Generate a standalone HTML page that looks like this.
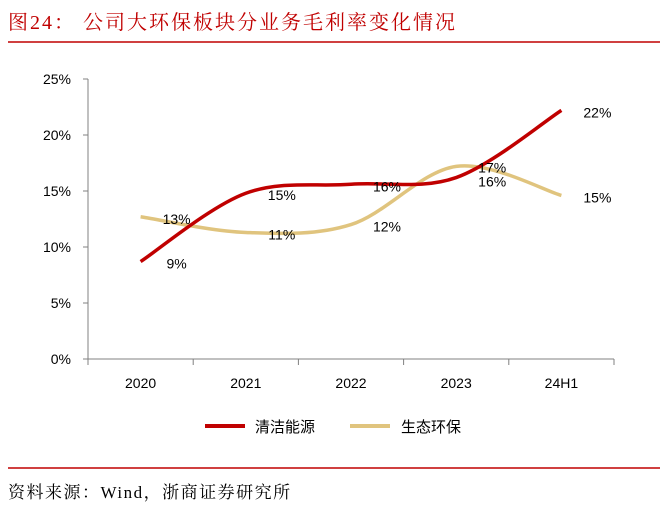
<!DOCTYPE html>
<html><head><meta charset="utf-8">
<style>
body{margin:0;background:#fff;}
svg{display:block;font-family:"Liberation Sans","Noto Sans CJK SC",sans-serif;}
</style></head>
<body>
<svg width="666" height="509" viewBox="0 0 666 509">
<text x="8" y="29" font-size="20" letter-spacing="2" fill="#c00000" font-family="Liberation Serif, Noto Serif CJK SC, serif">图24：  公司大环保板块分业务毛利率变化情况</text>
<line x1="8" y1="42" x2="660" y2="42" stroke="#c00000" stroke-width="1.5"/>
<g id="axes"></g>
<g id="series"></g>
<g>
<line x1="205" y1="426" x2="245" y2="426" stroke="#c00000" stroke-width="4"/>
<text x="255" y="432" font-size="15" fill="#000">清洁能源</text>
<line x1="350" y1="426" x2="390" y2="426" stroke="#e0c47e" stroke-width="4"/>
<text x="401" y="432" font-size="15" fill="#000">生态环保</text>
</g>
<line x1="8" y1="468" x2="660" y2="468" stroke="#c00000" stroke-width="1.5"/>
<text x="8" y="498" font-size="17" letter-spacing="1.5" fill="#000" font-family="Liberation Serif, Noto Serif CJK SC, serif">资料来源：Wind，浙商证券研究所</text>
</svg>
<script>
const categories=["2020","2021","2022","2023","24H1"];
const cleanEnergy=[8.7,14.8,15.6,16.2,22.2];
const eco=[12.7,11.3,12.0,17.2,14.6];
const cleanLabels=["9%","15%","16%","16%","22%"];
const ecoLabels=["13%","11%","12%","17%","15%"];
const yTicks=[0,5,10,15,20,25];

const NS="http://www.w3.org/2000/svg";
const x0=88,x1=614,y0=359,yTop=79,yMax=25;
const bw=(x1-x0)/categories.length;
const X=i=>x0+bw*(i+0.5);
const Y=v=>y0-(v/yMax)*(y0-yTop);
function mk(tag,attrs,parent){const e=document.createElementNS(NS,tag);for(const k in attrs)e.setAttribute(k,attrs[k]);parent.appendChild(e);return e;}
const ax=document.getElementById('axes');
let l=mk('line',{x1:x0,y1:yTop,x2:x0,y2:y0,stroke:'#808080'},ax);


l=mk('line',{x1:x0,y1:y0,x2:x1,y2:y0,stroke:'#808080'},ax);


yTicks.forEach(t=>{
  const tk=mk('line',{x1:x0-5,y1:Y(t),x2:x0,y2:Y(t),stroke:'#808080'},ax);
  
  
  const tx=mk('text',{x:x0-17,y:Y(t)+5,'font-size':14,'text-anchor':'end'},ax);
  tx.textContent=t+'%';
  
  
});
for(let i=0;i<=categories.length;i++){
  const tk=mk('line',{x1:x0+bw*i,y1:y0,x2:x0+bw*i,y2:y0+6,stroke:'#808080'},ax);
  
  
}
categories.forEach((c,i)=>{
  const tx=mk('text',{x:X(i),y:y0+29,'font-size':14,'text-anchor':'middle'},ax);
  tx.textContent=c;
  
  
});
function smooth(vals){
  const p=vals.map((v,i)=>[X(i),Y(v)]);
  let d='M'+p[0][0]+','+p[0][1];
  for(let i=0;i<p.length-1;i++){
    const a=p[i-1]||p[i],b=p[i],c=p[i+1],e=p[i+2]||c;
    const c1=[b[0]+(c[0]-a[0])/6,b[1]+(c[1]-a[1])/6];
    const c2=[c[0]-(e[0]-b[0])/6,c[1]-(e[1]-b[1])/6];
    d+=` C${c1[0]},${c1[1]} ${c2[0]},${c2[1]} ${c[0]},${c[1]}`;
  }
  return d;
}
const sg=document.getElementById('series');
const ecoPath=mk('path',{d:smooth(eco),fill:'none',stroke:'#e0c47e','stroke-width':3.5},sg);


const cePath=mk('path',{d:smooth(cleanEnergy),fill:'none',stroke:'#c00000','stroke-width':3.5},sg);


cleanEnergy.forEach((v,i)=>{
  const dy=(i===3)?9:7;
  const t=mk('text',{x:X(i)+36,y:Y(v)+dy,'font-size':14,'text-anchor':'middle'},sg);
  t.textContent=cleanLabels[i];
  
  
});
eco.forEach((v,i)=>{
  const dy=(i===3)?6:7;
  const t=mk('text',{x:X(i)+36,y:Y(v)+dy,'font-size':14,'text-anchor':'middle'},sg);
  t.textContent=ecoLabels[i];
  
  
});
</script>
</body></html>
